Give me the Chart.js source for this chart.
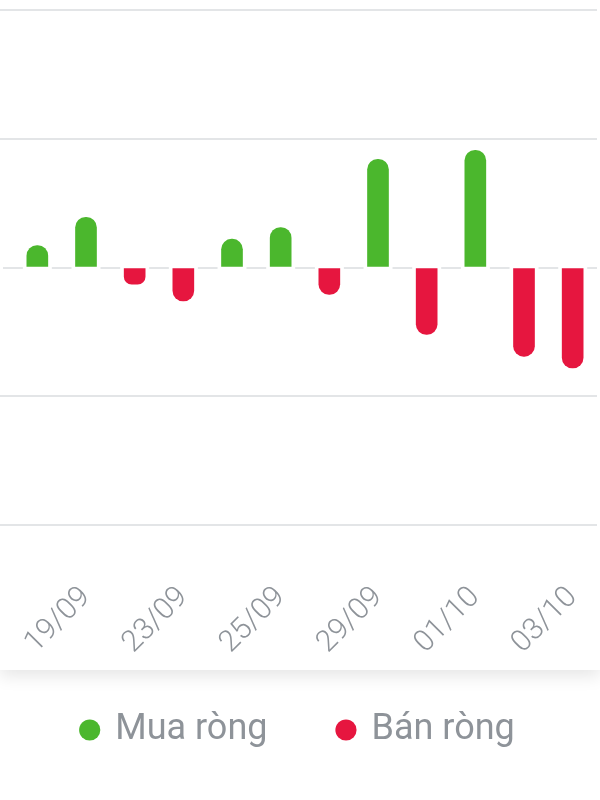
<!DOCTYPE html>
<html>
<head>
<meta charset="utf-8">
<title>Mua ròng / Bán ròng</title>
<script src="https://cdn.jsdelivr.net/npm/chart.js@4.4.1/dist/chart.umd.min.js"></script>
<style>
    html, body { margin: 0; padding: 0; background: #fff; overflow: hidden; }
    #card { position: absolute; left: 0; top: 0; width: 600px; height: 670px; background: #fff; box-shadow: 0 6px 16px rgba(0, 0, 0, 0.10); }
    #wrap { position: absolute; left: 0; top: 0; width: 600px; height: 800px; }
</style>
</head>
<body>
<div id="card"></div>
<div id="wrap"><canvas id="chart-flow"></canvas></div>
<script>
// Data
// -----------------------------------
var dates = ['18/09', '19/09', '22/09', '23/09', '24/09', '25/09', '26/09', '29/09', '30/09', '01/10', '02/10', '03/10'];
var buyValues = [17, 39, null, null, 22, 31, null, 84, null, 91, null, null];
var sellValues = [null, null, -13, -26, null, null, -21, null, -52, null, -69, -78];
var yTicks = [-200, -100, 0, 100, 200];

var GREEN = '#4bb72d';
var RED = '#e6163f';
var GRID = '#e3e5e7';
var TEXT = '#8e9399';
var FONT = 'Roboto, "Open Sans", sans-serif';

(function() {
    'use strict';

    var isZero = function(ctx) { return ctx.tick && ctx.tick.value === 0; };

    // let the rotated date labels run down past the axis box
    var labelRoom = {
        id: 'labelRoom',
        afterLayout: function(chart) {
            chart.scales.x.bottom = chart.height;
        }
    };

    var ctx = document.getElementById('chart-flow').getContext('2d');
    new Chart(ctx, {
        type: 'bar',
        data: {
            labels: dates,
            datasets: [{
                label: 'Mua ròng',
                data: buyValues,
                backgroundColor: GREEN,
                barThickness: 21,
                borderRadius: 10.5,
                borderSkipped: 'start'
            }, {
                label: 'Bán ròng',
                data: sellValues,
                backgroundColor: RED,
                barThickness: 21,
                borderRadius: 10.5,
                borderSkipped: 'start'
            }]
        },
        plugins: [labelRoom],
        options: {
            responsive: true,
            maintainAspectRatio: false,
            animation: false,
            layout: { padding: { top: 10, right: 3, bottom: 42, left: 0 } },
            plugins: {
                tooltip: { enabled: false },
                legend: {
                    position: 'bottom',
                    labels: {
                        usePointStyle: true,
                        pointStyle: 'circle',
                        boxWidth: 15,
                        boxHeight: 15,
                        padding: 71,
                        color: TEXT,
                        font: { family: FONT, size: 36 }
                    }
                }
            },
            scales: {
                x: {
                    stacked: true,
                    grid: { display: false },
                    border: { display: false },
                    ticks: {
                        autoSkip: false,
                        minRotation: 45,
                        maxRotation: 45,
                        padding: 47,
                        color: TEXT,
                        font: { family: FONT, size: 30, weight: 300 },
                        callback: function(v, i) { return i % 2 ? dates[i] : ''; }
                    },
                    afterFit: function(scale) {
                        scale.height = 116;
                        scale.paddingLeft = 0;
                        scale.paddingRight = 0;
                    }
                },
                y: {
                    stacked: true,
                    min: yTicks[0],
                    max: yTicks[yTicks.length - 1],
                    afterBuildTicks: function(scale) {
                        scale.ticks = yTicks.map(function(v) { return { value: v }; });
                    },
                    ticks: { display: false },
                    grid: {
                        color: GRID,
                        lineWidth: 2,
                        drawTicks: true,
                        tickLength: 13,
                        tickColor: GRID,
                        tickWidth: 2,
                        tickBorderDash: function(c) { return isZero(c) ? [0, 3, 20, 40] : []; }
                    },
                    border: {
                        display: false,
                        dash: function(c) { return isZero(c) ? [19.67, 29] : []; },
                        dashOffset: function(c) { return isZero(c) ? 9.83 : 0; }
                    }
                }
            }
        }
    });
})();
</script>
</body>
</html>
